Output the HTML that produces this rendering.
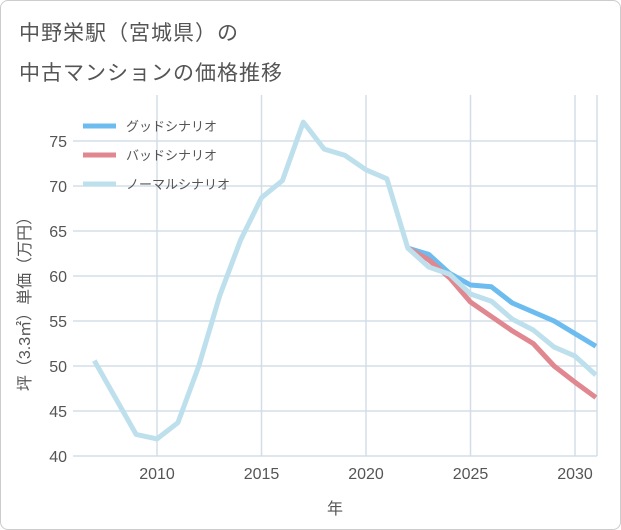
<!DOCTYPE html>
<html><head><meta charset="utf-8"><style>
body{margin:0;background:#fff;font-family:"Liberation Sans","Noto Sans CJK JP",sans-serif;}
#wrap{position:relative;width:619px;height:528px;border:1px solid #ccc;border-radius:8px;overflow:hidden;background:#fff}
.title{position:absolute;left:18px;font-size:21px;color:#555;letter-spacing:1px}
</style></head><body>
<div id="wrap">
<div class="title" style="top:16px">中野栄駅（宮城県）の</div>
<div class="title" style="top:56px">中古マンションの価格推移</div>
<svg id="chart" width="621" height="530" style="position:absolute;left:-1px;top:-1px"></svg>
</div>
<script>
const years=[2007,2008,2009,2010,2011,2012,2013,2014,2015,2016,2017,2018,2019,2020,2021,2022,2023,2024,2025,2026,2027,2028,2029,2030,2031];
const normalVals=[50.6,46.5,42.4,41.9,43.7,50,57.8,64,68.7,70.6,77.1,74.1,73.4,71.8,70.8,63.1,61,60.2,58,57.2,55.2,54,52.1,51.1,49];
const forecastYears=[2022,2023,2024,2025,2026,2027,2028,2029,2030,2031];
const goodVals=[63.1,62.4,60.3,59,58.8,57,56,55,53.6,52.2];
const badVals=[63.1,61.8,59.8,57.1,55.5,53.9,52.5,50,48.2,46.5];
const yTicks=[40,45,50,55,60,65,70,75];
const xTicks=[2010,2015,2020,2025,2030];
const legendLabels=["グッドシナリオ","バッドシナリオ","ノーマルシナリオ"];
const svg=document.getElementById('chart');
const NS="http://www.w3.org/2000/svg";
const L=73,R=597,T=95,B=456;
const x=v=>157+(v-2010)*(575-157)/20;
const y=v=>456-(v-40)*9;
function mk(tag,attrs){const e=document.createElementNS(NS,tag);for(const k in attrs)e.setAttribute(k,attrs[k]);svg.appendChild(e);return e;}
yTicks.forEach(v=>{
 const g=mk('line',{x1:L,x2:R,y1:y(v),y2:y(v),stroke:'#d3dde8','stroke-width':1.5});
 
 
 const t=mk('text',{x:67,y:y(v)+6,'text-anchor':'end','font-size':16,fill:'#555'});t.textContent=v;
 
 
});
xTicks.forEach(v=>{
 const g=mk('line',{x1:x(v),x2:x(v),y1:T,y2:B,stroke:'#d3dde8','stroke-width':1.5});
 
 
 const t=mk('text',{x:x(v),y:479,'text-anchor':'middle','font-size':16,fill:'#555'});t.textContent=v;
 
 
});
const rb=mk('line',{x1:R,x2:R,y1:T,y2:B,stroke:'#d3dde8','stroke-width':1.5});


const xt=mk('text',{x:335,y:514,'text-anchor':'middle','font-size':16,fill:'#555'});xt.textContent='年';


const yt=mk('text',{x:0,y:0,'text-anchor':'middle','font-size':16,fill:'#555',transform:'translate(30,300) rotate(-90)'});yt.textContent='坪（3.3㎡）単価（万円）';


const defs=mk('defs',{});const cp=document.createElementNS(NS,'clipPath');cp.setAttribute('id','cp');defs.appendChild(cp);
const cr=document.createElementNS(NS,'rect');cr.setAttribute('x',L);cr.setAttribute('y',T-20);cr.setAttribute('width',R-L);cr.setAttribute('height',B-T+20);cp.appendChild(cr);
function line(xs,vs,color,name){
 const p=mk('polyline',{points:xs.map((yr,i)=>x(yr)+','+y(vs[i])).join(' '),fill:'none',stroke:color,'stroke-width':5,'stroke-linejoin':'round','clip-path':'url(#cp)'});
 
 
}
line(forecastYears,goodVals,'#6cbcf0','good-scenario-line');
line(forecastYears,badVals,'#e0878f','bad-scenario-line');
line(years,normalVals,'#bde0ec','normal-scenario-line');
const colors=['#6cbcf0','#e0878f','#bde0ec'];
legendLabels.forEach((lab,i)=>{
 const ly=126+i*29;
 const s=mk('line',{x1:83,x2:116,y1:ly,y2:ly,stroke:colors[i],'stroke-width':5});
 
 
 const t=mk('text',{x:126,y:ly+5,'font-size':13,fill:'#555'});t.textContent=lab;
 
 
});
</script>
</body></html>
